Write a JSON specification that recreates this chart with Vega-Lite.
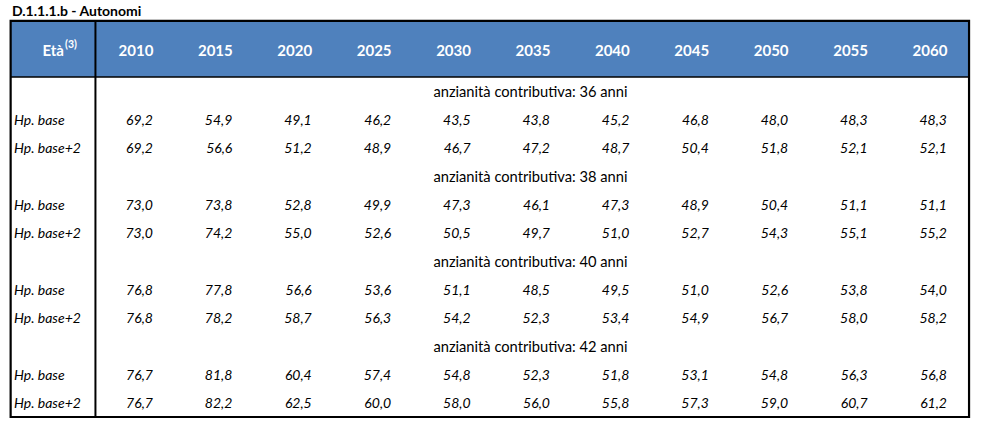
{
  "$schema": "https://vega.github.io/schema/vega-lite/v6.json",
  "width": 987,
  "height": 423,
  "autosize": {"type": "none"},
  "padding": 0,
  "background": "white",
  "config": {
    "view": {"stroke": null},
    "font": "Lato",
    "locale": {"number": {"decimal": ",", "thousands": ".", "grouping": [3], "currency": ["", " €"]}}
  },
  "datasets": {
    "valori": [
      {"anni": 36, "ipotesi": "Hp. base", "riga": 2, "anno": 2010, "valore": 69.2},
      {"anni": 36, "ipotesi": "Hp. base", "riga": 2, "anno": 2015, "valore": 54.9},
      {"anni": 36, "ipotesi": "Hp. base", "riga": 2, "anno": 2020, "valore": 49.1},
      {"anni": 36, "ipotesi": "Hp. base", "riga": 2, "anno": 2025, "valore": 46.2},
      {"anni": 36, "ipotesi": "Hp. base", "riga": 2, "anno": 2030, "valore": 43.5},
      {"anni": 36, "ipotesi": "Hp. base", "riga": 2, "anno": 2035, "valore": 43.8},
      {"anni": 36, "ipotesi": "Hp. base", "riga": 2, "anno": 2040, "valore": 45.2},
      {"anni": 36, "ipotesi": "Hp. base", "riga": 2, "anno": 2045, "valore": 46.8},
      {"anni": 36, "ipotesi": "Hp. base", "riga": 2, "anno": 2050, "valore": 48.0},
      {"anni": 36, "ipotesi": "Hp. base", "riga": 2, "anno": 2055, "valore": 48.3},
      {"anni": 36, "ipotesi": "Hp. base", "riga": 2, "anno": 2060, "valore": 48.3},
      {"anni": 36, "ipotesi": "Hp. base+2", "riga": 3, "anno": 2010, "valore": 69.2},
      {"anni": 36, "ipotesi": "Hp. base+2", "riga": 3, "anno": 2015, "valore": 56.6},
      {"anni": 36, "ipotesi": "Hp. base+2", "riga": 3, "anno": 2020, "valore": 51.2},
      {"anni": 36, "ipotesi": "Hp. base+2", "riga": 3, "anno": 2025, "valore": 48.9},
      {"anni": 36, "ipotesi": "Hp. base+2", "riga": 3, "anno": 2030, "valore": 46.7},
      {"anni": 36, "ipotesi": "Hp. base+2", "riga": 3, "anno": 2035, "valore": 47.2},
      {"anni": 36, "ipotesi": "Hp. base+2", "riga": 3, "anno": 2040, "valore": 48.7},
      {"anni": 36, "ipotesi": "Hp. base+2", "riga": 3, "anno": 2045, "valore": 50.4},
      {"anni": 36, "ipotesi": "Hp. base+2", "riga": 3, "anno": 2050, "valore": 51.8},
      {"anni": 36, "ipotesi": "Hp. base+2", "riga": 3, "anno": 2055, "valore": 52.1},
      {"anni": 36, "ipotesi": "Hp. base+2", "riga": 3, "anno": 2060, "valore": 52.1},
      {"anni": 38, "ipotesi": "Hp. base", "riga": 5, "anno": 2010, "valore": 73.0},
      {"anni": 38, "ipotesi": "Hp. base", "riga": 5, "anno": 2015, "valore": 73.8},
      {"anni": 38, "ipotesi": "Hp. base", "riga": 5, "anno": 2020, "valore": 52.8},
      {"anni": 38, "ipotesi": "Hp. base", "riga": 5, "anno": 2025, "valore": 49.9},
      {"anni": 38, "ipotesi": "Hp. base", "riga": 5, "anno": 2030, "valore": 47.3},
      {"anni": 38, "ipotesi": "Hp. base", "riga": 5, "anno": 2035, "valore": 46.1},
      {"anni": 38, "ipotesi": "Hp. base", "riga": 5, "anno": 2040, "valore": 47.3},
      {"anni": 38, "ipotesi": "Hp. base", "riga": 5, "anno": 2045, "valore": 48.9},
      {"anni": 38, "ipotesi": "Hp. base", "riga": 5, "anno": 2050, "valore": 50.4},
      {"anni": 38, "ipotesi": "Hp. base", "riga": 5, "anno": 2055, "valore": 51.1},
      {"anni": 38, "ipotesi": "Hp. base", "riga": 5, "anno": 2060, "valore": 51.1},
      {"anni": 38, "ipotesi": "Hp. base+2", "riga": 6, "anno": 2010, "valore": 73.0},
      {"anni": 38, "ipotesi": "Hp. base+2", "riga": 6, "anno": 2015, "valore": 74.2},
      {"anni": 38, "ipotesi": "Hp. base+2", "riga": 6, "anno": 2020, "valore": 55.0},
      {"anni": 38, "ipotesi": "Hp. base+2", "riga": 6, "anno": 2025, "valore": 52.6},
      {"anni": 38, "ipotesi": "Hp. base+2", "riga": 6, "anno": 2030, "valore": 50.5},
      {"anni": 38, "ipotesi": "Hp. base+2", "riga": 6, "anno": 2035, "valore": 49.7},
      {"anni": 38, "ipotesi": "Hp. base+2", "riga": 6, "anno": 2040, "valore": 51.0},
      {"anni": 38, "ipotesi": "Hp. base+2", "riga": 6, "anno": 2045, "valore": 52.7},
      {"anni": 38, "ipotesi": "Hp. base+2", "riga": 6, "anno": 2050, "valore": 54.3},
      {"anni": 38, "ipotesi": "Hp. base+2", "riga": 6, "anno": 2055, "valore": 55.1},
      {"anni": 38, "ipotesi": "Hp. base+2", "riga": 6, "anno": 2060, "valore": 55.2},
      {"anni": 40, "ipotesi": "Hp. base", "riga": 8, "anno": 2010, "valore": 76.8},
      {"anni": 40, "ipotesi": "Hp. base", "riga": 8, "anno": 2015, "valore": 77.8},
      {"anni": 40, "ipotesi": "Hp. base", "riga": 8, "anno": 2020, "valore": 56.6},
      {"anni": 40, "ipotesi": "Hp. base", "riga": 8, "anno": 2025, "valore": 53.6},
      {"anni": 40, "ipotesi": "Hp. base", "riga": 8, "anno": 2030, "valore": 51.1},
      {"anni": 40, "ipotesi": "Hp. base", "riga": 8, "anno": 2035, "valore": 48.5},
      {"anni": 40, "ipotesi": "Hp. base", "riga": 8, "anno": 2040, "valore": 49.5},
      {"anni": 40, "ipotesi": "Hp. base", "riga": 8, "anno": 2045, "valore": 51.0},
      {"anni": 40, "ipotesi": "Hp. base", "riga": 8, "anno": 2050, "valore": 52.6},
      {"anni": 40, "ipotesi": "Hp. base", "riga": 8, "anno": 2055, "valore": 53.8},
      {"anni": 40, "ipotesi": "Hp. base", "riga": 8, "anno": 2060, "valore": 54.0},
      {"anni": 40, "ipotesi": "Hp. base+2", "riga": 9, "anno": 2010, "valore": 76.8},
      {"anni": 40, "ipotesi": "Hp. base+2", "riga": 9, "anno": 2015, "valore": 78.2},
      {"anni": 40, "ipotesi": "Hp. base+2", "riga": 9, "anno": 2020, "valore": 58.7},
      {"anni": 40, "ipotesi": "Hp. base+2", "riga": 9, "anno": 2025, "valore": 56.3},
      {"anni": 40, "ipotesi": "Hp. base+2", "riga": 9, "anno": 2030, "valore": 54.2},
      {"anni": 40, "ipotesi": "Hp. base+2", "riga": 9, "anno": 2035, "valore": 52.3},
      {"anni": 40, "ipotesi": "Hp. base+2", "riga": 9, "anno": 2040, "valore": 53.4},
      {"anni": 40, "ipotesi": "Hp. base+2", "riga": 9, "anno": 2045, "valore": 54.9},
      {"anni": 40, "ipotesi": "Hp. base+2", "riga": 9, "anno": 2050, "valore": 56.7},
      {"anni": 40, "ipotesi": "Hp. base+2", "riga": 9, "anno": 2055, "valore": 58.0},
      {"anni": 40, "ipotesi": "Hp. base+2", "riga": 9, "anno": 2060, "valore": 58.2},
      {"anni": 42, "ipotesi": "Hp. base", "riga": 11, "anno": 2010, "valore": 76.7},
      {"anni": 42, "ipotesi": "Hp. base", "riga": 11, "anno": 2015, "valore": 81.8},
      {"anni": 42, "ipotesi": "Hp. base", "riga": 11, "anno": 2020, "valore": 60.4},
      {"anni": 42, "ipotesi": "Hp. base", "riga": 11, "anno": 2025, "valore": 57.4},
      {"anni": 42, "ipotesi": "Hp. base", "riga": 11, "anno": 2030, "valore": 54.8},
      {"anni": 42, "ipotesi": "Hp. base", "riga": 11, "anno": 2035, "valore": 52.3},
      {"anni": 42, "ipotesi": "Hp. base", "riga": 11, "anno": 2040, "valore": 51.8},
      {"anni": 42, "ipotesi": "Hp. base", "riga": 11, "anno": 2045, "valore": 53.1},
      {"anni": 42, "ipotesi": "Hp. base", "riga": 11, "anno": 2050, "valore": 54.8},
      {"anni": 42, "ipotesi": "Hp. base", "riga": 11, "anno": 2055, "valore": 56.3},
      {"anni": 42, "ipotesi": "Hp. base", "riga": 11, "anno": 2060, "valore": 56.8},
      {"anni": 42, "ipotesi": "Hp. base+2", "riga": 12, "anno": 2010, "valore": 76.7},
      {"anni": 42, "ipotesi": "Hp. base+2", "riga": 12, "anno": 2015, "valore": 82.2},
      {"anni": 42, "ipotesi": "Hp. base+2", "riga": 12, "anno": 2020, "valore": 62.5},
      {"anni": 42, "ipotesi": "Hp. base+2", "riga": 12, "anno": 2025, "valore": 60.0},
      {"anni": 42, "ipotesi": "Hp. base+2", "riga": 12, "anno": 2030, "valore": 58.0},
      {"anni": 42, "ipotesi": "Hp. base+2", "riga": 12, "anno": 2035, "valore": 56.0},
      {"anni": 42, "ipotesi": "Hp. base+2", "riga": 12, "anno": 2040, "valore": 55.8},
      {"anni": 42, "ipotesi": "Hp. base+2", "riga": 12, "anno": 2045, "valore": 57.3},
      {"anni": 42, "ipotesi": "Hp. base+2", "riga": 12, "anno": 2050, "valore": 59.0},
      {"anni": 42, "ipotesi": "Hp. base+2", "riga": 12, "anno": 2055, "valore": 60.7},
      {"anni": 42, "ipotesi": "Hp. base+2", "riga": 12, "anno": 2060, "valore": 61.2}
    ],
    "sezioni": [
      {"riga": 1, "testo": "anzianità contributiva: 36 anni"},
      {"riga": 4, "testo": "anzianità contributiva: 38 anni"},
      {"riga": 7, "testo": "anzianità contributiva: 40 anni"},
      {"riga": 10, "testo": "anzianità contributiva: 42 anni"}
    ]
  },
  "layer": [
    {
      "data": {"values": [{}]},
      "mark": {"type": "rect", "fill": "#4F81BD"},
      "encoding": {
        "x": {"datum": 2002.11, "type": "quantitative", "scale": {"domain": [2001.44, 2063.59], "nice": false, "zero": false}, "axis": null},
        "x2": {"datum": 2062.46},
        "y": {"datum": -1.48, "type": "quantitative", "scale": {"domain": [-2.219, 12.712], "reverse": true, "nice": false, "zero": false}, "axis": null},
        "y2": {"datum": 0.5}
      }
    },
    {
      "data": {"values": [{}]},
      "mark": {"type": "rect", "fill": null, "fillOpacity": 0, "stroke": "black", "strokeWidth": 2.2},
      "encoding": {
        "x": {"datum": 2002.11, "type": "quantitative"},
        "x2": {"datum": 2062.46},
        "y": {"datum": -1.48, "type": "quantitative"},
        "y2": {"datum": 12.5}
      }
    },
    {
      "data": {"values": [{}]},
      "mark": {"type": "rule", "stroke": "black", "strokeWidth": 2},
      "encoding": {
        "x": {"datum": 2007.45, "type": "quantitative"},
        "y": {"datum": -1.48, "type": "quantitative"},
        "y2": {"datum": 12.5}
      }
    },
    {
      "data": {"values": [{}]},
      "mark": {"type": "rule", "stroke": "black", "strokeWidth": 1.5},
      "encoding": {
        "x": {"datum": 2002.11, "type": "quantitative"},
        "x2": {"datum": 2062.46},
        "y": {"datum": 0.5, "type": "quantitative"}
      }
    },
    {
      "data": {"values": [{"titolo": "D.1.1.1.b - Autonomi"}]},
      "mark": {"type": "text", "align": "left", "baseline": "middle", "fontSize": 14, "fontWeight": "bold", "color": "black"},
      "encoding": {
        "x": {"datum": 2002.19, "type": "quantitative"},
        "y": {"datum": -1.8, "type": "quantitative"},
        "text": {"field": "titolo"}
      }
    },
    {
      "data": {"values": [{"etichetta": "Età"}]},
      "mark": {"type": "text", "align": "right", "baseline": "middle", "fontSize": 15, "fontWeight": "bold", "color": "white"},
      "encoding": {
        "x": {"datum": 2005.47, "type": "quantitative"},
        "y": {"datum": -0.42, "type": "quantitative"},
        "text": {"field": "etichetta"}
      }
    },
    {
      "data": {"values": [{"nota": "(3)"}]},
      "mark": {"type": "text", "align": "left", "baseline": "middle", "fontSize": 10.5, "fontWeight": "bold", "color": "white", "dx": 1, "dy": -6},
      "encoding": {
        "x": {"datum": 2005.47, "type": "quantitative"},
        "y": {"datum": -0.42, "type": "quantitative"},
        "text": {"field": "nota"}
      }
    },
    {
      "data": {"name": "valori"},
      "transform": [{"aggregate": [], "groupby": ["anno"]}],
      "mark": {"type": "text", "align": "center", "baseline": "middle", "fontSize": 15, "fontWeight": "bold", "color": "white"},
      "encoding": {
        "x": {"field": "anno", "type": "quantitative"},
        "y": {"datum": -0.42, "type": "quantitative"},
        "text": {"field": "anno", "type": "nominal"}
      }
    },
    {
      "data": {"name": "sezioni"},
      "mark": {"type": "text", "align": "center", "baseline": "middle", "fontSize": 14.7, "color": "black", "dy": 1.5},
      "encoding": {
        "x": {"datum": 2034.84, "type": "quantitative"},
        "y": {"field": "riga", "type": "quantitative"},
        "text": {"field": "testo"}
      }
    },
    {
      "data": {"name": "valori"},
      "transform": [{"aggregate": [], "groupby": ["riga", "ipotesi"]}],
      "mark": {"type": "text", "align": "left", "baseline": "middle", "fontSize": 14, "fontStyle": "italic", "color": "black", "dy": 1.5},
      "encoding": {
        "x": {"datum": 2002.32, "type": "quantitative"},
        "y": {"field": "riga", "type": "quantitative"},
        "text": {"field": "ipotesi"}
      }
    },
    {
      "data": {"name": "valori"},
      "mark": {"type": "text", "align": "right", "baseline": "middle", "fontSize": 14, "fontStyle": "italic", "color": "black", "dx": 17, "dy": 1.5},
      "encoding": {
        "x": {"field": "anno", "type": "quantitative"},
        "y": {"field": "riga", "type": "quantitative"},
        "text": {"field": "valore", "type": "quantitative", "format": ".1f"}
      }
    }
  ]
}
